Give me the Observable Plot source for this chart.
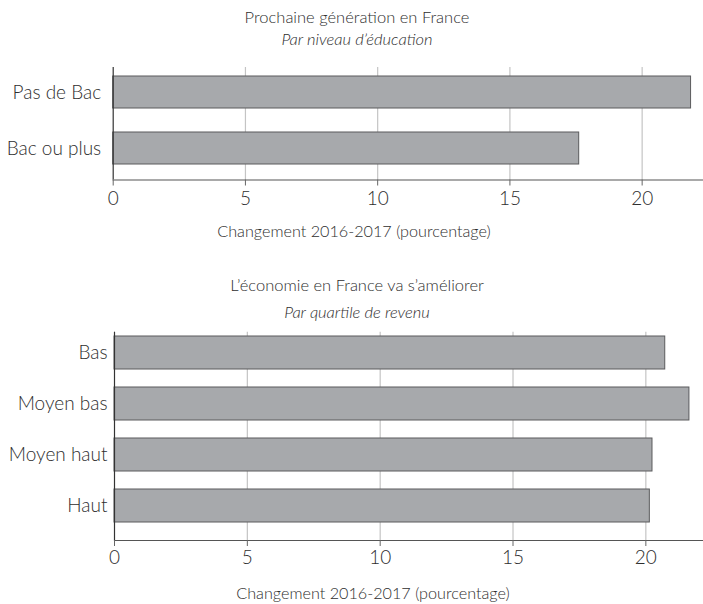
<!DOCTYPE html>
<html>
<head>
<meta charset="utf-8">
<script src="https://cdn.jsdelivr.net/npm/d3@7"></script>
<script src="https://cdn.jsdelivr.net/npm/@observablehq/plot@0.6"></script>
<style>
  body { margin: 0; background: #fff; }
  #wrap { position: relative; width: 703px; height: 604px; font-family: Lato, sans-serif; font-weight: 300; color: #2e2e2e; }
  .t { position: absolute; width: 500px; text-align: center; line-height: 1.2; white-space: nowrap; }
  .i { font-style: italic; }
  .p { position: absolute; left: 0; }
</style>
</head>
<body>
<div id="wrap"></div>
<script>
// Panel 1: Prochaine génération en France — par niveau d'éducation
const eduCategories = ["Pas de Bac", "Bac ou plus"];
const eduValues = [21.85, 17.62];

// Panel 2: L'économie en France va s'améliorer — par quartile de revenu
const incomeCategories = ["Bas", "Moyen bas", "Moyen haut", "Haut"];
const incomeValues = [20.73, 21.64, 20.25, 20.15];

const xTicks = [0, 5, 10, 15, 20];
const gridTicks = [5, 10, 15, 20];

const titles = [
  {text: "Prochaine génération en France", cx: 357, base: 24, size: 16.5, cls: "t"},
  {text: "Par niveau d’éducation", cx: 357, base: 46, size: 16.5, cls: "t i"},
  {text: "Changement 2016-2017 (pourcentage)", cx: 354, base: 237, size: 16.2, cls: "t"},
  {text: "L’économie en France va s’améliorer", cx: 357, base: 292, size: 16.5, cls: "t"},
  {text: "Par quartile de revenu", cx: 357, base: 319, size: 16.5, cls: "t i"},
  {text: "Changement 2016-2017 (pourcentage)", cx: 373, base: 599, size: 16.2, cls: "t"}
];

const wrap = document.getElementById("wrap");

function panel(cats, vals, opt) {
  const data = cats.map((c, i) => ({cat: c, value: vals[i]}));
  return Plot.plot({
    width: 703,
    height: opt.height,
    marginTop: opt.mt,
    marginBottom: opt.mb,
    marginLeft: opt.ml,
    marginRight: 0,
    style: {fontFamily: "Lato, sans-serif", fontWeight: 300, fontSize: "18.5px", color: "#2e2e2e", background: "transparent"},
    x: {domain: [0, opt.xmax], ticks: xTicks, tickFormat: d => String(d)},
    y: {domain: cats, paddingInner: opt.pad, paddingOuter: 0, insetTop: opt.it, insetBottom: opt.ib, label: null},
    marks: [
      Plot.ruleX(gridTicks, {stroke: "#c4c4c4", strokeWidth: 1.2}),
      Plot.barX(data, {x: "value", y: "cat", fill: "#a7a9ac", stroke: "#5a5b5d", strokeWidth: 1}),
      Plot.ruleX([0], {stroke: "#333", strokeWidth: 1.2}),
      Plot.frame({anchor: "bottom", stroke: "#555", strokeWidth: 1.2}),
      Plot.axisX({ticks: xTicks, tickSize: 6, tickPadding: opt.tp, label: null, stroke: "#666", fontSize: "19px", tickFormat: d => String(d)}),
      Plot.axisY({tickSize: 0, tickPadding: opt.ytp, label: null, fontSize: "19px"})
    ]
  });
}

const p1 = panel(eduCategories, eduValues, {height: 215, mt: 67, mb: 35.5, ml: 112.7, xmax: 22.32, pad: 0.437, it: 9, ib: 15.2, tp: 5, ytp: 12});
p1.classList.add("p");
p1.style.top = "0px";
wrap.appendChild(p1);

const p2 = panel(incomeCategories, incomeValues, {height: 320, mt: 71.7, mb: 40, ml: 114, xmax: 22.17, pad: 0.35, it: 2.6, ib: 17, tp: 4, ytp: 7});
p2.classList.add("p");
p2.style.top = "260px";
wrap.appendChild(p2);

for (const t of titles) {
  const d = document.createElement("div");
  d.className = t.cls;
  d.textContent = t.text;
  d.style.fontSize = t.size + "px";
  d.style.left = (t.cx - 250) + "px";
  d.style.top = (t.base - 0.987 * t.size) + "px";
  wrap.appendChild(d);
}
</script>
</body>
</html>
